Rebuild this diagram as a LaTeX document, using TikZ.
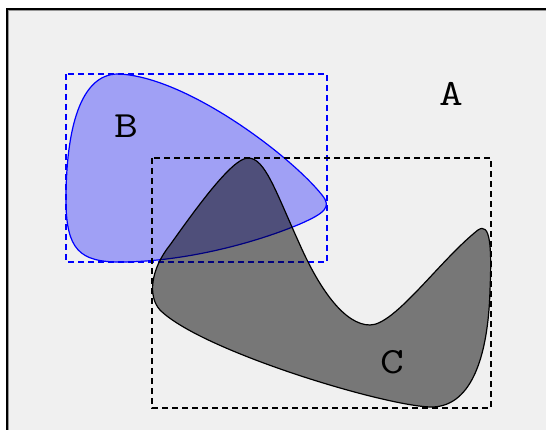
\documentclass[tikz,border=0pt]{standalone}
\definecolor{bggray}{RGB}{240,240,240}
\definecolor{edgegray}{RGB}{150,150,150}
\begin{document}
\begin{tikzpicture}[x=1pt,y=-1pt,
  bgc/.style={fill=bggray},
  boxdash/.style={line width=1.2pt, dash pattern=on 6pt off 4pt},
  lbl/.style={font=\fontsize{37}{37}\selectfont\ttfamily, inner sep=0pt, xscale=1.25}]
\useasboundingbox (0,0) rectangle (546,430);
\fill[white] (0,0) rectangle (546,430);
\fill[bgc] (8,10) rectangle (546,430);
\draw[black, line width=2pt] (7,430) -- (7,9) -- (546,9);
\draw[edgegray, line width=1pt] (8.5,430) -- (8.5,10.5) -- (546,10.5);
% shape B
\filldraw[fill=blue, fill opacity=0.333, draw=blue, line width=1.2pt]
  (118,74) .. controls (185,76) and (290,155) .. (322,195)
  .. controls (332,207) and (325,213) .. (300,224)
  .. controls (250,245) and (180,262) .. (120,262)
  .. controls (80,262) and (66,250) .. (66,200)
  .. controls (66,130) and (80,74) .. (118,74) -- cycle;
\draw[blue, boxdash] (66,74) rectangle (327,262);
% shape C
\filldraw[fill=black, fill opacity=0.5, draw=black, line width=1.2pt]
  (248,158) .. controls (265,158) and (275,190) .. (300,245)
  .. controls (320,290) and (345,325) .. (370,325)
  .. controls (395,325) and (440,260) .. (478,230)
  .. controls (490,222) and (492,245) .. (490,290)
  .. controls (488,360) and (470,408) .. (430,407)
  .. controls (380,405) and (200,350) .. (160,310)
  .. controls (148,297) and (150,270) .. (170,245)
  .. controls (195,210) and (232,158) .. (248,158) -- cycle;
\draw[black, boxdash] (152,158) rectangle (491,408);
% labels
\node[lbl] (A) at (451,94) {A};
\node[lbl] (B) at (126,126) {B};
\node[lbl] (C) at (392,362) {C};
\end{tikzpicture}
\end{document}
